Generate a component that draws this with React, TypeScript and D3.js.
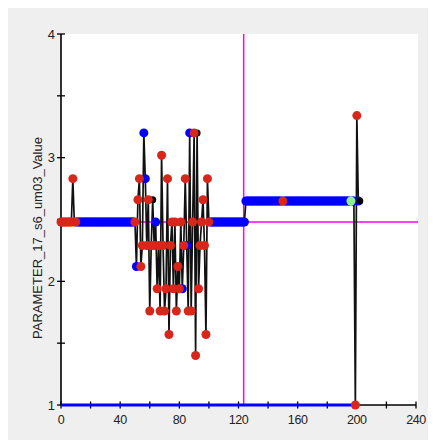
import React from "react";
import * as d3 from "d3";

// Sample values (x = sample index 0..202)
const values: number[] = [
  // 0-10
  2.48, 2.48, 2.48, 2.48, 2.48, 2.48, 2.48, 2.48, 2.83, 2.48, 2.48,
  // 11-49
  2.48, 2.48, 2.48, 2.48, 2.48, 2.48, 2.48, 2.48, 2.48, 2.48,
  2.48, 2.48, 2.48, 2.48, 2.48, 2.48, 2.48, 2.48, 2.48, 2.48,
  2.48, 2.48, 2.48, 2.48, 2.48, 2.48, 2.48, 2.48, 2.48, 2.48,
  2.48, 2.48, 2.48, 2.48, 2.48, 2.48, 2.48, 2.48, 2.48,
  // 50-100
  2.48, 2.12, 2.66, 2.83, 2.12, 2.29, 3.2, 2.83, 2.29, 2.66,
  1.76, 2.29, 2.66, 2.29, 2.48, 1.94, 2.29, 1.76, 3.02, 2.29,
  1.76, 1.94, 2.83, 1.57, 2.29, 2.48, 1.94, 2.48, 1.76, 2.12,
  1.94, 2.48, 1.94, 2.29, 2.83, 2.29, 1.76, 3.2, 1.76, 2.48,
  3.2, 1.4, 3.2, 1.94, 2.29, 2.48, 2.66, 2.29, 1.57, 2.83,
  2.48,
  // 101-124
  2.48, 2.48, 2.48, 2.48, 2.48, 2.48, 2.48, 2.48, 2.48, 2.48,
  2.48, 2.48, 2.48, 2.48, 2.48, 2.48, 2.48, 2.48, 2.48, 2.48,
  2.48, 2.48, 2.48, 2.48,
  // 125-195
  2.65, 2.65, 2.65, 2.65, 2.65, 2.65, 2.65, 2.65, 2.65, 2.65,
  2.65, 2.65, 2.65, 2.65, 2.65, 2.65, 2.65, 2.65, 2.65, 2.65,
  2.65, 2.65, 2.65, 2.65, 2.65, 2.65, 2.65, 2.65, 2.65, 2.65,
  2.65, 2.65, 2.65, 2.65, 2.65, 2.65, 2.65, 2.65, 2.65, 2.65,
  2.65, 2.65, 2.65, 2.65, 2.65, 2.65, 2.65, 2.65, 2.65, 2.65,
  2.65, 2.65, 2.65, 2.65, 2.65, 2.65, 2.65, 2.65, 2.65, 2.65,
  2.65, 2.65, 2.65, 2.65, 2.65, 2.65, 2.65, 2.65, 2.65, 2.65,
  2.65,
  // 196-202
  2.65, 2.65, 2.65, 1.0, 3.34, 2.65, 2.65,
];

// Point class per sample: b = in control, r = flagged, g = current, k = excluded
const flags: string =
  "rrrrrrrrrrr" +
  "b".repeat(39) +
  "rbrrrrbbrr" + "rrkrbrrrrr" + "rrrrrrrrrr" + "rrbrrbrbrr" + "rrkrrrrrrr" + "r" +
  "b".repeat(49) +
  "r" +
  "b".repeat(45) +
  "g" + "bb" + "rr" + "b" + "k";

const centerLine = [2.48];
const markerX = [123.5];
const limitX = [0, 198];
const limitY = [1, 1];

const xTicks = [0, 20, 40, 60, 80, 100, 120, 140, 160, 180, 200, 220, 240];
const xLabels = [0, 40, 80, 120, 160, 200, 240];
const yTicks = [1, 1.5, 2, 2.5, 3, 3.5, 4];
const yLabels = [1, 2, 3, 4];

const W = 428;
const H = 432;
const COLORS: Record<string, string> = {
  b: "#0000ff",
  r: "#d8261b",
  g: "#8ff08f",
  k: "#000000",
};

export default function App() {
  const x = d3.scaleLinear().domain([0, 240]).range([53, 408]);
  const y = d3.scaleLinear().domain([1, 4]).range([397, 26]);
  const line = d3
    .line<number>()
    .x((_, i) => x(i))
    .y((d) => y(d));
  const pts = values.map((v, i) => ({ i, v, c: flags[i] }));
  const layers = ["b", "k", "r", "g"];
  const font = "'Liberation Sans', Arial, sans-serif";

  return (
    <svg width={W} height={H} style={{ display: "block" }}>
      <rect x={0} y={0} width={W} height={H} fill="#efefef" />
      <rect x={53} y={26} width={357} height={371} fill="#ffffff" />

      {/* reference lines */}
      <line x1={x(markerX[0])} x2={x(markerX[0])} y1={y(4)} y2={y(1)} stroke="#ff00ff" strokeWidth={1.5} />
      <line x1={x(0)} x2={410} y1={y(centerLine[0])} y2={y(centerLine[0])} stroke="#ff00ff" strokeWidth={1.5} />

      {/* axes */}
      <line x1={x(0)} x2={x(0)} y1={y(4)} y2={y(1)} stroke="#000" strokeWidth={1.6} />
      <line x1={x(0)} x2={x(240)} y1={y(1)} y2={y(1)} stroke="#000" strokeWidth={1.6} />
      {yTicks.map((t) => (
        <line key={"yt" + t} x1={x(0) - 4} x2={x(0) + 4} y1={y(t)} y2={y(t)} stroke="#000" strokeWidth={1.3} />
      ))}
      {xTicks.map((t) => (
        <line key={"xt" + t} x1={x(t)} x2={x(t)} y1={y(1) - 3.5} y2={y(1) + 3.5} stroke="#000" strokeWidth={1.3} />
      ))}
      {yLabels.map((t) => (
        <text key={"yl" + t} x={x(0) - 6} y={y(t)} dy="0.36em" textAnchor="end" fontFamily={font} fontSize={13} fill="#222">
          {t}
        </text>
      ))}
      {xLabels.map((t) => (
        <text key={"xl" + t} x={x(t)} y={y(1) + 19} textAnchor="middle" fontFamily={font} fontSize={12.5} letterSpacing={-0.4} fill="#222">
          {t}
        </text>
      ))}
      <text
        transform={`translate(34,230) rotate(-90)`}
        textAnchor="middle"
        fontFamily={font}
        fontSize={13}
        fill="#222"
      >
        PARAMETER_17_s6_um03_Value
      </text>

      {/* series line */}
      <path d={line(values) || ""} fill="none" stroke="#111" strokeWidth={1.7} />

      {/* lower limit line */}
      <line x1={x(limitX[0])} x2={x(limitX[1])} y1={y(limitY[0])} y2={y(limitY[1])} stroke="#0000ff" strokeWidth={3} />

      {/* points */}
      {layers.map((c) =>
        pts
          .filter((p) => p.c === c)
          .map((p) => (
            <circle key={c + p.i} cx={x(p.i)} cy={y(p.v)} r={c === "k" ? 3.5 : 4.5} fill={COLORS[c]} />
          ))
      )}
    </svg>
  );
}
